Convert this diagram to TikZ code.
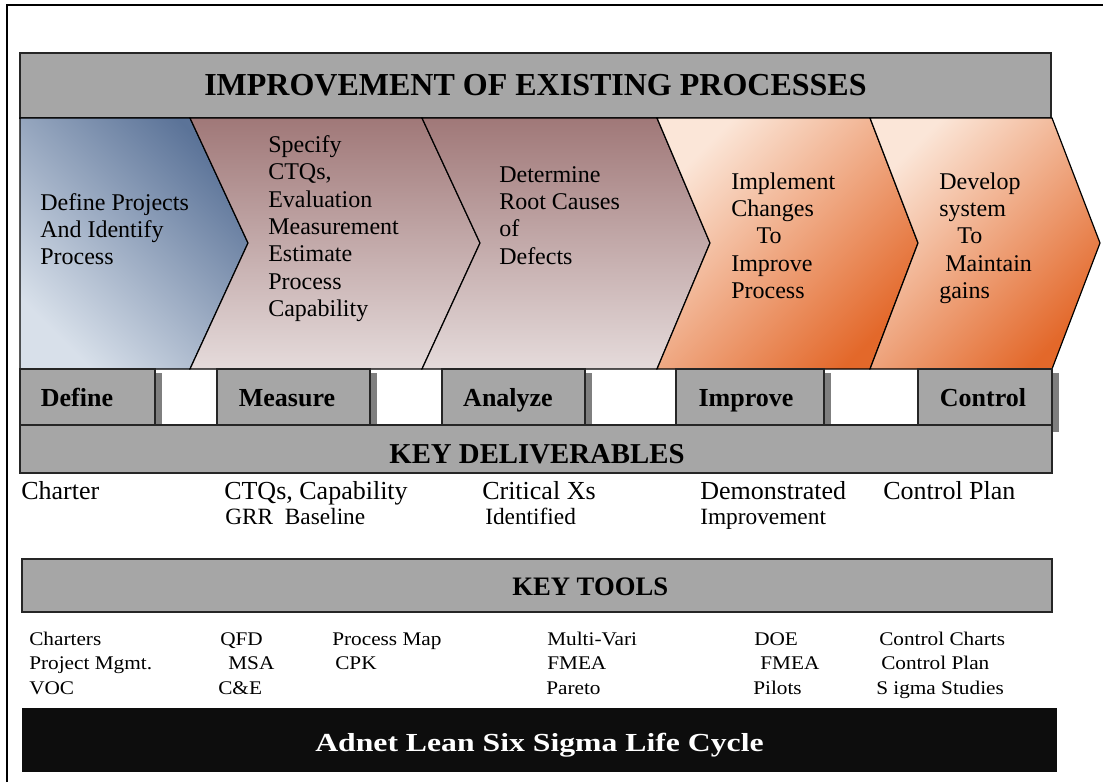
\documentclass[tikz,border=0pt]{standalone}
\usepackage{fontspec}
\setmainfont{Liberation Serif}
\newfontfamily\toolfont[FakeStretch=1.1]{Liberation Serif}
\newfontfamily\footfont[FakeStretch=1.22]{Liberation Serif}
\usepackage{tikz}

\definecolor{bargray}{HTML}{A6A6A6}
\definecolor{shadowgray}{HTML}{7F7F7F}
\definecolor{slatedark}{HTML}{5B7398}
\definecolor{slatelight}{HTML}{D8E0EA}
\definecolor{rosetop}{HTML}{A07878}
\definecolor{rosebottom}{HTML}{E5DBDB}
\definecolor{peach}{HTML}{FBE6D8}
\definecolor{deeporange}{HTML}{E3682A}
\definecolor{nightbar}{HTML}{0D0D0D}

\tikzset{
	graybar/.style={fill=bargray, draw=black!85, line width=0.9pt},
	phasebox/.style={fill=bargray, draw=black!85, line width=0.8pt},
	phaseshadow/.style={fill=shadowgray},
	chevron/.style={draw=black, line width=0.9pt},
	chevblue/.style={chevron, top color=slatedark, bottom color=slatelight, shading angle=-45},
	chevrose/.style={chevron, top color=rosetop, bottom color=rosebottom},
	chevorange/.style={chevron, top color=peach, bottom color=deeporange, shading angle=45},
	chevtext/.style={anchor=base west, inner sep=0pt, font=\fontsize{18}{20.5}\selectfont},
	phaselabel/.style={anchor=base, inner sep=0pt, font=\fontsize{19.5}{22}\selectfont\bfseries},
	deliv/.style={anchor=base west, inner sep=0pt, font=\fontsize{19.5}{22}\selectfont},
	delivsmall/.style={anchor=base west, inner sep=0pt, font=\fontsize{17.5}{20}\selectfont},
	tool/.style={anchor=base west, inner sep=0pt, font=\toolfont\fontsize{14.5}{17}\selectfont}
}

\begin{document}
\begin{tikzpicture}[x=0.75pt, y=-0.75pt]
	\useasboundingbox (0,0) rectangle (1103,782);
	% frame
	\draw[line width=1.5pt] (7,782) -- (7,5) -- (1103,5);
	
	% title banner
	\draw[graybar] (20,53) rectangle (1051,118);
	\node[anchor=base west, inner sep=0pt, font=\fontsize{24}{28}\selectfont\bfseries] (title) at (204,95) {IMPROVEMENT OF EXISTING PROCESSES};
	
	% chevrons
	\draw[chevblue] (20,118) -- (190,118) -- (248,243) -- (190,369) -- (20,369) -- cycle;
	\draw[chevrose] (190,118) -- (422,118) -- (480,243) -- (422,369) -- (190,369) -- (248,243) -- cycle;
	\draw[chevrose] (422,118) -- (657,118) -- (710,243) -- (657,369) -- (422,369) -- (480,243) -- cycle;
	\draw[chevorange] (657,118) -- (870,118) -- (918,243) -- (870,369) -- (657,369) -- (710,243) -- cycle;
	\draw[chevorange] (870,118) -- (1052,118) -- (1100,243) -- (1052,369) -- (870,369) -- (918,243) -- cycle;
	
	\node[chevtext] (stepdefine) at (40,210) {\begin{tabular}[t]{@{}l@{}}Define Projects\\And Identify\\Process\end{tabular}};
	\node[chevtext] (stepmeasure) at (268,152.5) {\begin{tabular}[t]{@{}l@{}}Specify\\CTQs,\\Evaluation\\Measurement\\Estimate\\Process\\Capability\end{tabular}};
	\node[chevtext] (stepanalyze) at (499,182) {\begin{tabular}[t]{@{}l@{}}Determine\\Root Causes\\of\\Defects\end{tabular}};
	\node[chevtext] (stepimprove) at (731,189) {\begin{tabular}[t]{@{}l@{}}Implement\\Changes\\\hspace*{19pt}To\\Improve\\Process\end{tabular}};
	\node[chevtext] (stepcontrol) at (939,189) {\begin{tabular}[t]{@{}l@{}}Develop\\system\\\hspace*{13.5pt}To\\\hspace*{4.5pt}Maintain\\gains\end{tabular}};
	
	% phase row
	\fill[phaseshadow] (155,373) rectangle (162,425);
	\fill[phaseshadow] (370,373) rectangle (377,425);
	\fill[phaseshadow] (585,373) rectangle (592,425);
	\fill[phaseshadow] (824,373) rectangle (831,425);
	\fill[phaseshadow] (1052,373) rectangle (1059,432);
	\draw[phasebox] (20,369) rectangle (155,425);
	\draw[phasebox] (217,369) rectangle (370,425);
	\draw[phasebox] (442,369) rectangle (585,425);
	\draw[phasebox] (676,369) rectangle (824,425);
	\draw[phasebox] (918,369) rectangle (1052,425);
	\node[phaselabel] (define) at (77,406) {Define};
	\node[phaselabel] (measure) at (287,406) {Measure};
	\node[phaselabel] (analyze) at (508,406) {Analyze};
	\node[phaselabel] (improve) at (746,406) {Improve};
	\node[phaselabel] (control) at (983,406) {Control};
	
	% key deliverables
	\draw[graybar] (20,425) rectangle (1052,473);
	\node[anchor=base, inner sep=0pt, font=\fontsize{21.6}{25}\selectfont\bfseries] (delivhead) at (537,463) {KEY DELIVERABLES};
	\node[deliv] (charter) at (21,499) {Charter};
	\node[deliv] (ctqs) at (224,499) {CTQs, Capability};
	\node[deliv] (critxs) at (482,499) {Critical Xs};
	\node[deliv] (demo) at (700,499) {Demonstrated};
	\node[deliv] (cplan) at (883,499) {Control Plan};
	\node[delivsmall] (grr) at (225,524) {GRR~ Baseline};
	\node[delivsmall] (ident) at (485,524) {Identified};
	\node[delivsmall] (improvement) at (700,524) {Improvement};
	
	% key tools
	\draw[graybar] (22,559) rectangle (1052,612);
	\node[anchor=base west, inner sep=0pt, font=\fontsize{20}{24}\selectfont\bfseries] (toolhead) at (512,595) {KEY TOOLS};
	\node[tool] (charters) at (29,645) {Charters};
	\node[tool] (qfd) at (220,645) {QFD};
	\node[tool] (pmap) at (332,645) {Process Map};
	\node[tool] (multivari) at (547,645) {Multi-Vari};
	\node[tool] (doe) at (754,645) {DOE};
	\node[tool] (ccharts) at (879,645) {Control Charts};
	\node[tool] (pmgmt) at (29,669) {Project Mgmt.};
	\node[tool] (msa) at (228,669) {MSA};
	\node[tool] (cpk) at (335,669) {CPK};
	\node[tool] (fmeaa) at (547,669) {FMEA};
	\node[tool] (fmeab) at (760,669) {FMEA};
	\node[tool] (cplantool) at (881,669) {Control Plan};
	\node[tool] (voc) at (29,694) {VOC};
	\node[tool] (cande) at (218,694) {C\&E};
	\node[tool] (pareto) at (546,694) {Pareto};
	\node[tool] (pilots) at (753,694) {Pilots};
	\node[tool] (sigma) at (876,694) {S igma Studies};
	
	% footer
	\fill[nightbar] (22,708) rectangle (1057,772);
	\node[anchor=base, inner sep=0pt, text=white, font=\footfont\fontsize{19.5}{23}\selectfont\bfseries] (footer) at (539.5,751) {Adnet Lean Six Sigma Life Cycle};
\end{tikzpicture}
\end{document}
